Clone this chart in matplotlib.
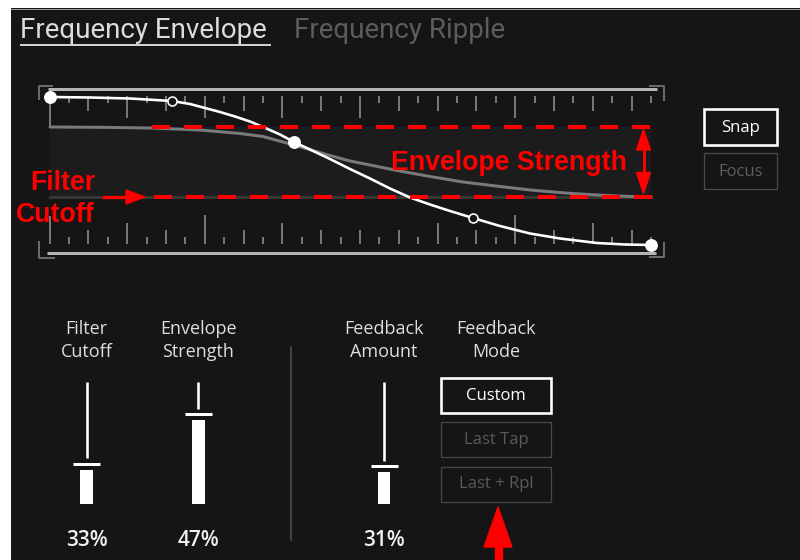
import matplotlib
matplotlib.use("Agg")
import matplotlib.pyplot as plt
from matplotlib.patches import Rectangle, Polygon

# ---------------- data ----------------
tab_labels = ["Frequency Envelope", "Frequency Ripple"]
active_tab = 0

# envelope curve (white) sampled along the drawn curve (px coords of the graph)
env_x = [50, 90, 130, 172, 190, 205, 220, 235, 250, 263, 280, 294, 310, 330, 350,
         370, 390, 410, 430, 450, 473, 500, 530, 560, 597, 625, 651]
env_y = [97, 97.5, 98.5, 101, 104, 108, 112, 116.5, 121.5, 127, 134.5, 142, 149.5, 159, 169,
         178.5, 188.5, 197.5, 204.5, 211, 218, 226, 233.5, 238.5, 243, 244.5, 245]
# applied (scaled) envelope curve (gray)
app_x = [50, 100, 150, 200, 240, 263, 294, 330, 350, 375, 397, 430, 463, 500, 530, 565, 597, 625, 651]
app_y = [127, 127.3, 128, 130, 133.5, 136.5, 145, 155.5, 161, 166, 170.5, 176.5, 182, 186.5, 190, 193, 195, 196.3, 197]
node_x = [50, 294, 651]
node_y = [97, 142, 245]
handle_x = [172, 473]
handle_y = [101, 218]

# ruler tick lengths (px), top row hangs down, bottom row stands up
top_tick_len = [31, 7, 15, 7, 22, 7, 15, 7, 22, 7, 15, 7, 22, 7, 15, 7,
                22, 7, 15, 7, 15, 7, 15, 7, 22, 7, 15, 7, 15, 7, 15, 7]
bottom_tick_len = [28, 7, 14, 7, 21, 7, 14, 7, 29, 7, 14, 7, 21, 7, 14, 7,
                   14, 7, 14, 7, 21, 7, 14, 7, 29, 7, 14, 7, 21, 7, 14, 7]

side_buttons = ["Snap", "Focus"]
side_active = [True, False]

slider_labels = ["Filter\nCutoff", "Envelope\nStrength", "Feedback\nAmount"]
slider_values = [33, 47, 31]
slider_min = [0, -100, 0]
slider_max = [100, 100, 100]

mode_label = "Feedback\nMode"
mode_options = ["Custom", "Last Tap", "Last + Rpl"]
mode_selected = 0

annot_cutoff = "Filter\nCutoff"
annot_strength = "Envelope Strength"

# ---------------- styling / layout ----------------
BG = "#151515"
RED = "#ff0000"
PT = 0.72  # points per pixel at dpi 100

fig = plt.figure(figsize=(8, 5.6), dpi=100, facecolor="white")
ax = fig.add_axes([0, 0, 1, 1])
ax.set_xlim(0, 800)
ax.set_ylim(560, 0)
ax.axis("off")

ax.add_patch(Rectangle((11, 8), 789, 552, facecolor=BG, edgecolor="none", zorder=0))
ax.plot([11, 800], [8.5, 8.5], color="#9a9a9a", lw=1 * PT, zorder=1)

# ---- tabs ----
tab_x = [20.5, 294]
for i, (lab, tx) in enumerate(zip(tab_labels, tab_x)):
    col = "#dcdcdc" if i == active_tab else "#5c5c5c"
    ax.text(tx, 38, lab, fontsize=20, family="Roboto", color=col,
            ha="left", va="baseline", zorder=5)
    if i == active_tab:
        ax.plot([20.5, 269.5], [44.5, 44.5], color="#d0d0d0", lw=2 * PT, zorder=5)

# ---- envelope graph frame ----
g_left, g_right = 50, 651
rail_col = "#b4b4b4"
ax.plot([48, 657], [89, 89], color=rail_col, lw=3 * PT, solid_capstyle="butt", zorder=3)
ax.plot([47, 656], [252.5, 252.5], color=rail_col, lw=3 * PT, solid_capstyle="butt", zorder=3)
br_col = "#6a6a6a"
brw = 2 * PT
ax.plot([52, 38.5, 38.5], [85.5, 85.5, 99], color=br_col, lw=brw, zorder=3)
ax.plot([650, 664, 664], [85.5, 85.5, 100], color=br_col, lw=brw, zorder=3)
ax.plot([38.5, 38.5, 54], [242, 257.5, 257.5], color=br_col, lw=brw, zorder=3)
ax.plot([664, 664, 650], [243, 256.5, 256.5], color=br_col, lw=brw, zorder=3)

# ruler ticks
tick_col = "#777777"
spacing = (g_right - 49.5) / (len(top_tick_len) - 1)
for i, (lt, lb) in enumerate(zip(top_tick_len, bottom_tick_len)):
    x = 49.5 + i * spacing
    ax.plot([x, x], [96, 96 + lt], color=tick_col, lw=2 * PT, solid_capstyle="butt", zorder=3)
    ax.plot([x, x], [244 - lb, 244], color=tick_col, lw=2 * PT, solid_capstyle="butt", zorder=3)

# envelope band (between filter cutoff and cutoff + strength)
ax.add_patch(Rectangle((g_left, 127), g_right - g_left, 70, facecolor="#1c1c1c",
                       edgecolor="none", zorder=1))
ax.plot([g_left, g_right], [197, 197], color="#363636", lw=3 * PT, zorder=2)

# curves
ax.plot(app_x, app_y, color="#7a7a7a", lw=3 * PT, zorder=4, solid_capstyle="round")
ax.plot(env_x, env_y, color="white", lw=2.6 * PT, zorder=6, solid_capstyle="round")
ax.plot(node_x, node_y, "o", ms=11.5 * PT, color="white", mec="white", zorder=7)
ax.plot(handle_x, handle_y, "o", ms=9 * PT, mfc=BG, mec="white", mew=1.6 * PT, zorder=7)

# ---- red annotations ----
dash = (0, (18 / 4, 14 / 4))
ax.plot([152, 655], [127, 127], color=RED, lw=4 * PT, linestyle=dash, dash_capstyle="butt", zorder=8)
ax.plot([154, 655], [197, 197], color=RED, lw=4 * PT, linestyle=dash, dash_capstyle="butt", zorder=8)

# cutoff arrow
ax.plot([102, 128], [197, 197], color=RED, lw=3.3 * PT, solid_capstyle="butt", zorder=8)
ax.add_patch(Polygon([[126, 190], [145, 197], [126, 204]], closed=True, color=RED, zorder=8))
# strength double arrow
ax.plot([643.5, 643.5], [148, 174], color=RED, lw=3 * PT, solid_capstyle="butt", zorder=8)
ax.add_patch(Polygon([[636.5, 150], [643.5, 129.5], [650.5, 150]], closed=True, color=RED, zorder=8))
ax.add_patch(Polygon([[636.5, 172.5], [643.5, 193.5], [650.5, 172.5]], closed=True, color=RED, zorder=8))
# bottom arrow pointing to mode buttons
ax.add_patch(Polygon([[484, 547], [498, 507], [512, 547]], closed=True, color=RED, zorder=8))
ax.add_patch(Rectangle((494.5, 546), 7, 14, color=RED, zorder=8))

red_font = dict(family="Liberation Sans", weight="bold", color=RED, fontsize=19.3, zorder=9)
for k, line in enumerate(annot_cutoff.split("\n")):
    ax.text(95, 190.5 + k * 32, line, ha="right", va="baseline", **red_font)
ax.text(391, 170, annot_strength, ha="left", va="baseline", **red_font)

# ---- side buttons ----
for k, (lab, act) in enumerate(zip(side_buttons, side_active)):
    y0 = 109 + k * 44
    ec = "white" if act else "#4a4a4a"
    lw = 2.6 * PT if act else 1.3 * PT
    tc = "white" if act else "#5e5e5e"
    ax.add_patch(Rectangle((704, y0), 73, 35.5, facecolor=BG, edgecolor=ec, lw=lw, zorder=5))
    ax.text(740.5, y0 + 18.5, lab, ha="center", va="center", fontsize=12,
            family="Open Sans", color=tc, zorder=6)

# ---- sliders ----
label_col = "#dedede"
slider_cx = [86.7, 198.3, 384]
track_top, track_bot = 382, 504
for lab, val, vmin, vmax, cx in zip(slider_labels, slider_values, slider_min, slider_max, slider_cx):
    for k, line in enumerate(lab.split("\n")):
        ax.text(cx, 328.5 + k * 23.5, line, ha="center", va="center", fontsize=13,
                family="Open Sans", color=label_col, zorder=5)
    frac = (val - vmin) / (vmax - vmin)
    hy = track_bot - frac * (track_bot - track_top)
    ax.plot([cx, cx], [track_top, hy - 5.5], color="white", lw=2.6 * PT, solid_capstyle="butt", zorder=5)
    ax.plot([cx - 13.5, cx + 13.5], [hy, hy], color="white", lw=3 * PT, solid_capstyle="butt", zorder=5)
    ax.add_patch(Rectangle((cx - 6.3, hy + 6), 12.6, track_bot - (hy + 6), facecolor="white",
                           edgecolor="none", zorder=5))
    ax.text(cx, 541, f"{val}%", ha="center", va="center", fontsize=15, family="Open Sans",
            weight="semibold", color="#f0f0f0", zorder=5)

# divider
ax.plot([291, 291], [347, 540], color="#505050", lw=1.6 * PT, zorder=3)

# ---- feedback mode ----
mode_cx = 496
for k, line in enumerate(mode_label.split("\n")):
    ax.text(mode_cx, 328.5 + k * 23.5, line, ha="center", va="center", fontsize=13,
            family="Open Sans", color=label_col, zorder=5)
mode_y0 = [378, 422, 466.5]
for k, (opt, y0) in enumerate(zip(mode_options, mode_y0)):
    act = k == mode_selected
    ec = "white" if act else "#474747"
    lw = 2.6 * PT if act else 1.3 * PT
    tc = "white" if act else "#5a5a5a"
    ax.add_patch(Rectangle((441, y0), 110, 35, facecolor=BG, edgecolor=ec, lw=lw, zorder=5))
    ax.text(mode_cx, y0 + 18, opt, ha="center", va="center", fontsize=12,
            family="Open Sans", color=tc, zorder=6)

fig.savefig("out.png", dpi=100, facecolor=fig.get_facecolor())
